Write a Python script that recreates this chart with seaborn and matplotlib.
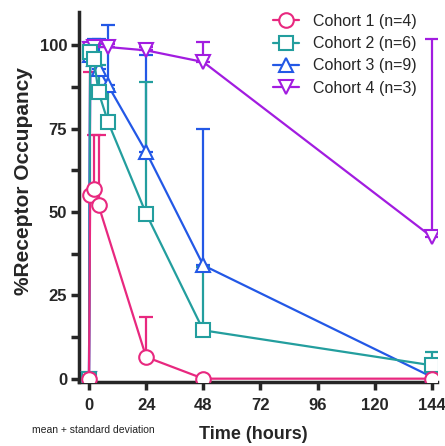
import matplotlib
matplotlib.use("Agg")
import matplotlib.pyplot as plt
from matplotlib.ticker import MultipleLocator
import seaborn as sns
import pandas as pd
import numpy as np

# values (mean, upper SD)
t1 = [0, 0.5, 2, 4, 24, 48, 144]
m1 = [0, 55, 57, 52, 6.5, 0, 0]
sd1 = [0, 37, 16, 21, 12, 0, 0]

t2 = [0, 0.5, 2, 4, 8, 24, 48, 144]
m2 = [0, 98, 96, 86, 77, 49.5, 14.5, 4]
sd2 = [0, 2, 4, 8, 10, 39.5, 19, 4]

t3 = [0, 0.5, 2, 4, 8, 24, 48, 144]
m3 = [0, 97, 96, 93, 88, 68, 34, 0.5]
sd3 = [0, 4, 6, 9, 18, 29, 41, 0]

t4 = [0, 0.5, 2, 8, 24, 48, 144]
m4 = [0, 99, 99.5, 99.5, 98.5, 95, 42.5]
sd4 = [0, 1, 1, 1, 1, 6, 59.5]

labels = ["Cohort 1 (n=4)", "Cohort 2 (n=6)", "Cohort 3 (n=9)", "Cohort 4 (n=3)"]
colors = ["#E8287F", "#239E9E", "#2358E6", "#A21CE0"]
markers = ["o", "s", "^", "v"]

series = [(t1, m1, sd1), (t2, m2, sd2), (t3, m3, sd3), (t4, m4, sd4)]

sns.set_style("ticks")
plt.rcParams["font.family"] = ["Liberation Sans", "DejaVu Sans"]

fig = plt.figure(figsize=(4.45, 4.46), dpi=100)
ax = fig.add_axes([0.1775, 0.1435, 0.8045, 0.8295])

for i in [3, 2, 1, 0]:
    t, m, sd = series[i]
    df = pd.DataFrame({"time": t, "ro": m})
    ax.errorbar(t, m, yerr=[np.zeros(len(sd)), sd], fmt="none", ecolor=colors[i],
                elinewidth=1.6, capsize=5, capthick=1.6, zorder=2 + (3 - i) * 0.1)
    sns.lineplot(data=df, x="time", y="ro", ax=ax, color=colors[i], marker=markers[i],
                 markersize=10.5, markerfacecolor="white", markeredgecolor=colors[i],
                 markeredgewidth=1.5, linewidth=1.6, label=labels[i],
                 zorder=3 + (3 - i) * 0.1)

ax.set_xlim(-4.2, 146.1)
ax.set_ylim(-1, 110)
ax.set_xticks([0, 24, 48, 72, 96, 120, 144])
ax.set_yticks([0, 25, 50, 75, 100])
ax.yaxis.set_minor_locator(MultipleLocator(12.5))
sns.despine(ax=ax)
for s in ["left", "bottom"]:
    ax.spines[s].set_linewidth(2.5)
ax.tick_params(axis="both", which="major", width=2.5, length=5.5, labelsize=12, pad=3)
ax.tick_params(axis="x", which="major", pad=6)
ax.tick_params(axis="y", which="minor", width=2.5, length=5.5)
for lab in ax.get_xticklabels() + ax.get_yticklabels():
    lab.set_fontweight("bold")

ax.set_xlabel("Time (hours)", fontsize=13, fontweight="bold")
ax.set_ylabel("%Receptor Occupancy", fontsize=15, fontweight="bold")
ax.xaxis.set_label_coords(0.487, -0.118)
ax.yaxis.set_label_coords(-0.128, 0.543)

handles, labs = ax.get_legend_handles_labels()
order = [labs.index(l) for l in labels]
ax.legend([handles[k] for k in order], labels, loc="upper right", frameon=False,
          fontsize=11.5, handlelength=1.6, handletextpad=0.9, labelspacing=0.45,
          bbox_to_anchor=(0.975, 1.025), borderaxespad=0.3)

fig.text(0.072, 0.03, "mean + standard deviation", fontsize=7.5, color="#222222")

fig.savefig("out.png", dpi=100)
